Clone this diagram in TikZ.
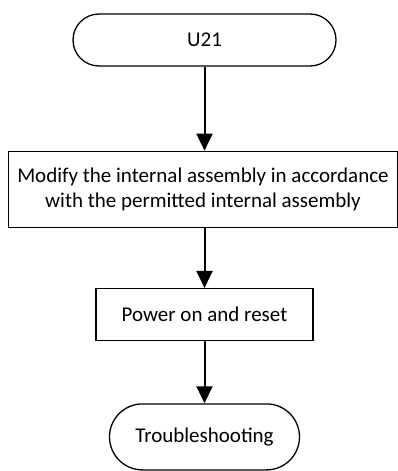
\documentclass[tikz,border=0pt]{standalone}
\usepackage{fontspec}
\setmainfont{Carlito}
\usepackage{tikz}
\usetikzlibrary{positioning, arrows.meta}

\tikzset{
  terminal/.style={draw, line width=1.3pt, rounded corners=26pt, minimum height=52pt, align=center},
  process/.style={draw, line width=1.3pt, minimum height=52pt, align=center},
  flow/.style={-{Triangle[width=16pt,length=17pt]}, line width=2pt}
}

\begin{document}
\begin{tikzpicture}[font=\fontsize{21}{25}\selectfont, node distance=60pt]
  \useasboundingbox (0pt,0pt) rectangle (398pt,-471pt);
  % start and first step
  \node[terminal, minimum width=263pt] (u21) at (204.5pt,-40pt) {U21};
  \node[process, minimum width=389pt, minimum height=76pt, below=84pt of u21.south, xshift=-1.5pt] (modify)
    {Modify the internal assembly in accordance\\with the permitted internal assembly};

  % power and end
  \node[process, minimum width=217pt, below=60pt of modify.south, xshift=1.5pt] (power) {Power on and reset};
  \node[terminal, minimum width=190pt, minimum height=66pt, rounded corners=33pt, below=62pt of power.south] (trouble) {Troubleshooting};

  \draw[flow] (u21) -- (u21 |- modify.north);
  \draw[flow] (modify.south -| u21) -- (power);
  \draw[flow] (power) -- (trouble);
\end{tikzpicture}
\end{document}
